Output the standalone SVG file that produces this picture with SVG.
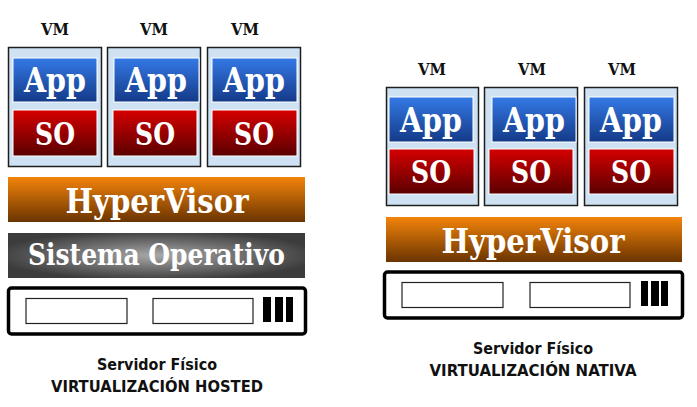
<svg xmlns="http://www.w3.org/2000/svg" width="697" height="407" viewBox="0 0 697 407">
<defs>
<linearGradient id="gApp" x1="0" y1="0" x2="0" y2="1"><stop offset="0" stop-color="#3479e6"/><stop offset="1" stop-color="#143a88"/></linearGradient>
<linearGradient id="gSO" x1="0" y1="0" x2="0" y2="1"><stop offset="0" stop-color="#d60000"/><stop offset="1" stop-color="#5a0000"/></linearGradient>
<linearGradient id="gHV" x1="0" y1="0" x2="0" y2="1"><stop offset="0" stop-color="#f3840a"/><stop offset="1" stop-color="#6a3400"/></linearGradient>
<radialGradient id="gOS" cx="0.5" cy="0.5" r="0.55"><stop offset="0" stop-color="#a8a8a8"/><stop offset="1" stop-color="#3c3c3c"/></radialGradient>
</defs>
<style>
.vm{fill:#cfe2f3;stroke:#1e1e1e;stroke-width:1.5}
.app{fill:url(#gApp);stroke:#fff;stroke-width:1}
.so{fill:url(#gSO);stroke:#fff;stroke-width:1}
.hv{fill:url(#gHV)}
.os{fill:url(#gOS)}
.srv{fill:#fff;stroke:#000;stroke-width:3.5}
.slot{fill:#fff;stroke:#222;stroke-width:1.2}
.bar{fill:#000}
text{font-family:"DejaVu Serif","Liberation Serif",serif;font-weight:bold;text-anchor:middle}
.w{fill:#fff}
.k{fill:#111}
.lbl{font-size:17px}
.big{font-size:33px}
.cap{font-family:"DejaVu Sans","Liberation Sans",sans-serif;font-size:16px}
</style>

<g id="hosted-vm1">
<text class="k lbl" x="55" y="35" textLength="28" lengthAdjust="spacingAndGlyphs">VM</text>
<rect class="vm" x="8.5" y="47.5" width="93" height="119"/>
<rect class="app" x="13" y="58" width="84" height="44"/>
<text class="w big" x="55" y="92" textLength="62" lengthAdjust="spacingAndGlyphs">App</text>
<rect class="so" x="13" y="110" width="84" height="46"/>
<text class="w big" x="55" y="145" textLength="40" lengthAdjust="spacingAndGlyphs" style="font-size:31px">SO</text>
</g>
<g id="hosted-vm2">
<text class="k lbl" x="154" y="35" textLength="28" lengthAdjust="spacingAndGlyphs">VM</text>
<rect class="vm" x="107.5" y="47.5" width="93" height="119"/>
<rect class="app" x="114" y="58" width="85" height="44"/>
<text class="w big" x="156" y="92" textLength="62" lengthAdjust="spacingAndGlyphs">App</text>
<rect class="so" x="113" y="110" width="84" height="46"/>
<text class="w big" x="155" y="145" textLength="40" lengthAdjust="spacingAndGlyphs" style="font-size:31px">SO</text>
</g>
<g id="hosted-vm3">
<text class="k lbl" x="245" y="35" textLength="28" lengthAdjust="spacingAndGlyphs">VM</text>
<rect class="vm" x="207.5" y="47.5" width="93" height="119"/>
<rect class="app" x="212" y="58" width="85" height="44"/>
<text class="w big" x="254" y="92" textLength="62" lengthAdjust="spacingAndGlyphs">App</text>
<rect class="so" x="212" y="110" width="85" height="46"/>
<text class="w big" x="254" y="145" textLength="40" lengthAdjust="spacingAndGlyphs" style="font-size:31px">SO</text>
</g>
<g id="hosted-hypervisor">
<rect class="hv" x="8" y="177" width="297" height="45"/>
<text class="w" x="157" y="213" style="font-size:34px" textLength="183" lengthAdjust="spacingAndGlyphs">HyperVisor</text>
</g>
<g id="hosted-os">
<rect class="os" x="8" y="233" width="297" height="45"/>
<text class="w" x="156.5" y="265" style="font-size:29px" textLength="257" lengthAdjust="spacingAndGlyphs">Sistema Operativo</text>
</g>
<g id="hosted-server">
<rect class="srv" x="8.5" y="288" width="297" height="46" rx="3"/>
<rect class="slot" x="26" y="298.5" width="101" height="25"/>
<rect class="slot" x="153" y="298.5" width="100" height="25"/>
<rect class="bar" x="263" y="297" width="8" height="25"/>
<rect class="bar" x="275" y="297" width="8" height="25"/>
<rect class="bar" x="286" y="297" width="7" height="25"/>
</g>
<g id="hosted-caption">
<text class="k cap" x="157" y="370" textLength="120" lengthAdjust="spacingAndGlyphs">Servidor Físico</text>
<text class="k cap" x="157" y="392" textLength="212" lengthAdjust="spacingAndGlyphs">VIRTUALIZACIÓN HOSTED</text>
</g>

<g id="native-vm1">
<text class="k lbl" x="432" y="75" textLength="28" lengthAdjust="spacingAndGlyphs">VM</text>
<rect class="vm" x="386.5" y="87.5" width="92" height="118"/>
<rect class="app" x="389" y="97" width="84" height="45"/>
<text class="w big" x="431" y="132" textLength="62" lengthAdjust="spacingAndGlyphs">App</text>
<rect class="so" x="389" y="149" width="85" height="45"/>
<text class="w big" x="431" y="183" textLength="40" lengthAdjust="spacingAndGlyphs" style="font-size:31px">SO</text>
</g>
<g id="native-vm2">
<text class="k lbl" x="532" y="75" textLength="28" lengthAdjust="spacingAndGlyphs">VM</text>
<rect class="vm" x="484.5" y="87.5" width="93" height="118"/>
<rect class="app" x="492" y="97" width="84" height="45"/>
<text class="w big" x="534" y="132" textLength="62" lengthAdjust="spacingAndGlyphs">App</text>
<rect class="so" x="489" y="149" width="84" height="45"/>
<text class="w big" x="531" y="183" textLength="40" lengthAdjust="spacingAndGlyphs" style="font-size:31px">SO</text>
</g>
<g id="native-vm3">
<text class="k lbl" x="622" y="75" textLength="28" lengthAdjust="spacingAndGlyphs">VM</text>
<rect class="vm" x="584.5" y="87.5" width="93" height="118"/>
<rect class="app" x="589" y="97" width="85" height="45"/>
<text class="w big" x="631" y="132" textLength="62" lengthAdjust="spacingAndGlyphs">App</text>
<rect class="so" x="589" y="149" width="85" height="45"/>
<text class="w big" x="631" y="183" textLength="40" lengthAdjust="spacingAndGlyphs" style="font-size:31px">SO</text>
</g>
<g id="native-hypervisor">
<rect class="hv" x="386" y="217" width="296" height="45"/>
<text class="w" x="533" y="253" style="font-size:34px" textLength="183" lengthAdjust="spacingAndGlyphs">HyperVisor</text>
</g>
<g id="native-server">
<rect class="srv" x="384.5" y="272" width="298" height="46" rx="3"/>
<rect class="slot" x="402" y="282.5" width="101" height="25"/>
<rect class="slot" x="530" y="282.5" width="100" height="25"/>
<rect class="bar" x="641" y="281" width="7" height="25"/>
<rect class="bar" x="651" y="281" width="8" height="25"/>
<rect class="bar" x="661" y="281" width="7" height="25"/>
</g>
<g id="native-caption">
<text class="k cap" x="533" y="354" textLength="120" lengthAdjust="spacingAndGlyphs">Servidor Físico</text>
<text class="k cap" x="533" y="376" textLength="207" lengthAdjust="spacingAndGlyphs">VIRTUALIZACIÓN NATIVA</text>
</g>
<g id="connectors"/>
</svg>
